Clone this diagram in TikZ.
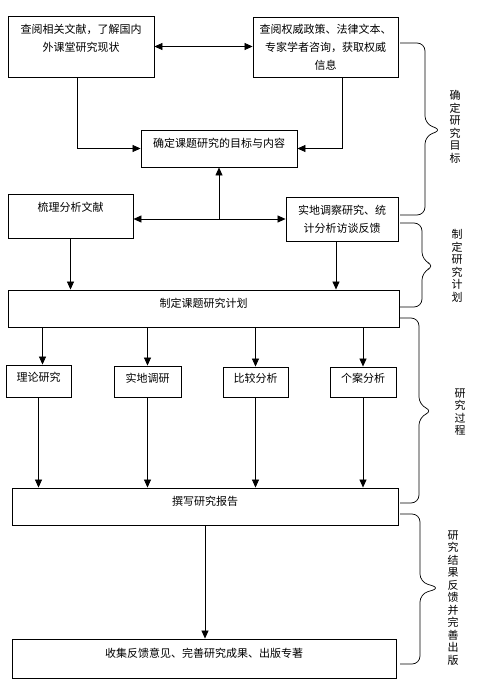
\documentclass[tikz,border=0pt]{standalone}
\usepackage{fontspec}
\setmainfont{Noto Sans CJK SC}
\usetikzlibrary{arrows.meta}

\begin{document}
\begin{tikzpicture}[x=1pt,y=-1pt,box/.style={draw,line width=0.9pt,inner sep=0pt,align=center,font=\fontsize{11}{18}\selectfont},oneline/.style={text depth=12pt},flow/.style={line width=0.7pt,-{Triangle[length=8pt,width=7pt]}},both/.style={line width=0.7pt,{Triangle[length=8pt,width=7pt]}-{Triangle[length=8pt,width=7pt]}},stage/.style={line width=0.7pt,rounded corners=8pt},side/.style={align=center,font=\fontsize{11}{12.5}\selectfont}]
\useasboundingbox (0,0) rectangle (480,685);
\coordinate (A) at (81,46.5);
\coordinate (B) at (325.5,47);
\coordinate (C) at (219,148.5);
\coordinate (D) at (70.5,216);
\coordinate (E) at (342,219);
\coordinate (F) at (203.5,308.5);
\coordinate (G1) at (38.5,381);
\coordinate (G2) at (147.5,381.5);
\coordinate (G3) at (255.5,382);
\coordinate (G4) at (363,382);
\coordinate (H) at (205,506.5);
\coordinate (I) at (204,658.5);
\node[box,minimum width=146pt,minimum height=61pt] (lit) at (A) {查阅相关文献，了解国内\\外课堂研究现状\\\mbox{}};
\node[box,minimum width=145pt,minimum height=60pt] (policy) at (B) {查阅权威政策、法律文本、\\专家学者咨询，获取权威\\信息};
\node[box,oneline,minimum width=156pt,minimum height=37pt] (goal) at (C) {确定课题研究的目标与内容};
\node[box,minimum width=125pt,minimum height=44pt] (sort) at (D) {梳理分析文献\\\mbox{}};
\node[box,minimum width=112pt,minimum height=44pt] (field) at (E) {实地调察研究、统\\计分析访谈反馈};
\node[box,oneline,minimum width=391pt,minimum height=37pt] (plan) at (F) {制定课题研究计划};
\node[box,text depth=8pt,minimum width=65pt,minimum height=32pt] (theory) at (G1) {理论研究};
\node[box,text depth=8pt,minimum width=67pt,minimum height=31pt] (survey) at (G2) {实地调研};
\node[box,text depth=8pt,minimum width=65pt,minimum height=30pt] (compare) at (G3) {比较分析};
\node[box,text depth=8pt,minimum width=66pt,minimum height=30pt] (case) at (G4) {个案分析};
\node[box,oneline,minimum width=386pt,minimum height=37pt] (report) at (H) {撰写研究报告};
\node[box,oneline,minimum width=384pt,minimum height=39pt] (publish) at (I) {收集反馈意见、完善研究成果、出版专著};
% top part
\draw[both] (lit.east) -- (lit.east -| policy.west);
\draw[flow] ([xshift=-4pt]lit.south) |- (goal);
\draw[flow] ([xshift=17pt]policy.south) |- (goal);
\draw[both] (field.west -| sort.east) -- (field.west);
\draw[flow] (goal.south |- field.west) -- (goal.south);
\draw[flow] (sort.south) -- (sort.south |- plan.north);
\draw[flow] ([xshift=-6pt]field.south) -- ([xshift=-6pt]field.south |- plan.north);
% research methods
\draw[flow] ([xshift=4pt]plan.south -| theory.north) -- ([xshift=4pt]theory.north);
\draw[flow] (plan.south -| survey.north) -- (survey.north);
\draw[flow] (plan.south -| compare.north) -- (compare.north);
\draw[flow] (plan.south -| case.north) -- (case.north);
\draw[flow] (theory.south) -- (theory.south |- report.north);
\draw[flow] (survey.south) -- (survey.south |- report.north);
\draw[flow] (compare.south) -- (compare.south |- report.north);
\draw[flow] (case.south) -- (case.south |- report.north);
\draw[flow] (report.south) -- (report.south |- publish.north);
% braces
\coordinate (t1) at (442,130);
\coordinate (t2) at (435,266);
\coordinate (t3) at (433,411);
\coordinate (t4) at (440,588);
\draw[stage] (400,43) -- (425,43) -- (425,124) -- (t1) -- (425,136) -- (425,215) -- (400,215);
\draw[stage] (400,223) -- (422,223) -- (422,260) -- (t2) -- (422,272) -- (422,307) -- (400,307);
\draw[stage] (400,318) -- (419,318) -- (419,405) -- (t3) -- (419,417) -- (419,503) -- (400,503);
\draw[stage] (400,514) -- (420,514) -- (420,582) -- (t4) -- (420,594) -- (420,664) -- (400,664);
\node[side] (aim) at (455,127) {确\\定\\研\\究\\目\\标};
\node[side] (plantxt) at (457,266) {制\\定\\研\\究\\计\\划};
\node[side] (process) at (460,412) {研\\究\\过\\程};
\node[side] (result) at (453,598) {研\\究\\结\\果\\反\\馈\\并\\完\\善\\出\\版};
\end{tikzpicture}
\end{document}
